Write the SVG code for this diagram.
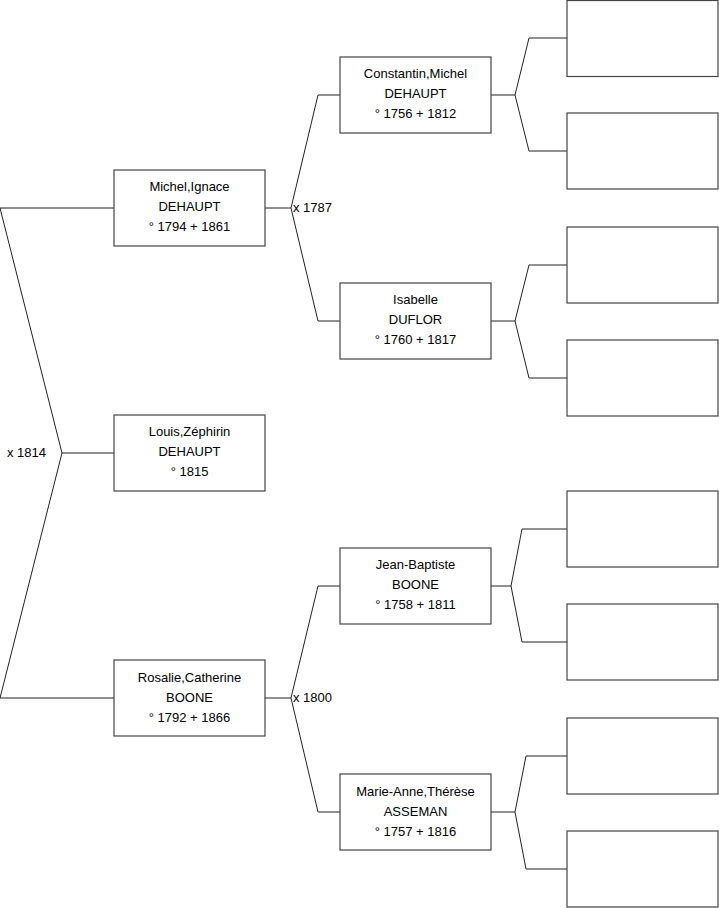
<svg xmlns="http://www.w3.org/2000/svg" width="719" height="908" viewBox="0 0 719 908">
<style>
.box{fill:#fff;stroke:#444;stroke-width:1.2}
.ln{fill:none;stroke:#222;stroke-width:1}
text{font-family:"Liberation Sans",Arial,sans-serif;font-size:13px;fill:#000}
.c{text-anchor:middle}
</style>
<rect width="719" height="908" fill="#fff"/>
<g id="connectors">
<path class="ln" d="M114,208H0L62,453L0,698H114M62,453H114"/>
<path class="ln" d="M265,208H291L318,95H340M291,208L318,321H340"/>
<path class="ln" d="M265,698H291L318,586H340M291,698L318,812H340"/>
<path class="ln" d="M491,95H515L529,38H567M515,95L529,151H567"/>
<path class="ln" d="M491,321H515L529,265H567M515,321L529,378H567"/>
<path class="ln" d="M491,586H511L522,529H567M511,586L522,642H567"/>
<path class="ln" d="M491,812H515L526,756H567M515,812L526,869H567"/>
<text x="7" y="457">x 1814</text>
<text x="293" y="212">x 1787</text>
<text x="293" y="702">x 1800</text>
</g>
<g id="n-michel"><rect class="box" x="114" y="170" width="151" height="76"/>
<text class="c" x="189.5" y="191">Michel,Ignace</text><text class="c" x="189.5" y="211">DEHAUPT</text><text class="c" x="189.5" y="231">° 1794 + 1861</text></g>
<g id="n-louis"><rect class="box" x="114" y="415" width="151" height="76"/>
<text class="c" x="189.5" y="436">Louis,Zéphirin</text><text class="c" x="189.5" y="456">DEHAUPT</text><text class="c" x="189.5" y="476">° 1815</text></g>
<g id="n-rosalie"><rect class="box" x="114" y="660" width="151" height="76"/>
<text class="c" x="189.5" y="682">Rosalie,Catherine</text><text class="c" x="189.5" y="702">BOONE</text><text class="c" x="189.5" y="722">° 1792 + 1866</text></g>
<g id="n-constantin"><rect class="box" x="340" y="57" width="151" height="76"/>
<text class="c" x="415.5" y="78">Constantin,Michel</text><text class="c" x="415.5" y="98">DEHAUPT</text><text class="c" x="415.5" y="118">° 1756 + 1812</text></g>
<g id="n-isabelle"><rect class="box" x="340" y="283" width="151" height="76"/>
<text class="c" x="415.5" y="304">Isabelle</text><text class="c" x="415.5" y="324">DUFLOR</text><text class="c" x="415.5" y="344">° 1760 + 1817</text></g>
<g id="n-jeanbaptiste"><rect class="box" x="340" y="548" width="151" height="76"/>
<text class="c" x="415.5" y="569">Jean-Baptiste</text><text class="c" x="415.5" y="589">BOONE</text><text class="c" x="415.5" y="609">° 1758 + 1811</text></g>
<g id="n-marieanne"><rect class="box" x="340" y="774" width="151" height="76"/>
<text class="c" x="415.5" y="796">Marie-Anne,Thérèse</text><text class="c" x="415.5" y="816">ASSEMAN</text><text class="c" x="415.5" y="836">° 1757 + 1816</text></g>
<g id="n-g1"><rect class="box" x="567" y="0.5" width="151" height="76"/></g>
<g id="n-g2"><rect class="box" x="567" y="113" width="151" height="76"/></g>
<g id="n-g3"><rect class="box" x="567" y="227" width="151" height="76"/></g>
<g id="n-g4"><rect class="box" x="567" y="340" width="151" height="76"/></g>
<g id="n-g5"><rect class="box" x="567" y="491" width="151" height="76"/></g>
<g id="n-g6"><rect class="box" x="567" y="604" width="151" height="76"/></g>
<g id="n-g7"><rect class="box" x="567" y="718" width="151" height="76"/></g>
<g id="n-g8"><rect class="box" x="567" y="831" width="151" height="76"/></g>
</svg>
